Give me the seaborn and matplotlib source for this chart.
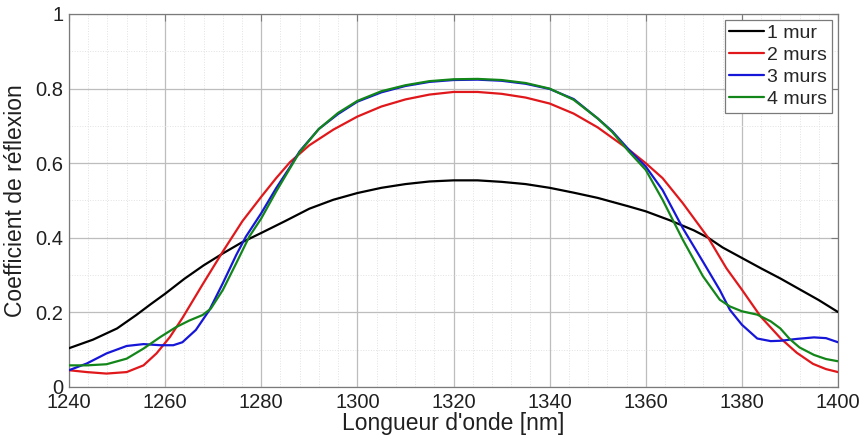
import matplotlib
matplotlib.use("Agg")
import matplotlib.pyplot as plt
import seaborn as sns
import pandas as pd
from matplotlib.ticker import MultipleLocator, FixedLocator

# ---- data ----
x_1mur = [1240, 1245, 1250, 1254, 1257, 1260, 1264, 1268, 1272, 1276, 1280, 1285, 1290, 1295,
          1300, 1305, 1310, 1315, 1320, 1325, 1330, 1335, 1340, 1345, 1350, 1356.5, 1360, 1365,
          1370, 1373, 1376, 1380, 1384, 1388, 1392, 1396, 1400]
y_1mur = [0.104, 0.127, 0.157, 0.193, 0.222, 0.250, 0.290, 0.326, 0.358, 0.388, 0.413, 0.445, 0.478, 0.502,
          0.520, 0.534, 0.544, 0.551, 0.554, 0.554, 0.550, 0.544, 0.534, 0.521, 0.507, 0.484, 0.471, 0.447,
          0.420, 0.400, 0.374, 0.346, 0.318, 0.291, 0.262, 0.233, 0.201]

x_2murs = [1240, 1243.7, 1247.8, 1252, 1255.5, 1258.2, 1261, 1263.6, 1267.8, 1272, 1276.1, 1280, 1283.1,
           1286, 1290, 1295, 1300, 1305, 1310, 1315, 1320, 1325, 1330, 1335, 1340, 1345, 1350, 1356.5,
           1360, 1363.5, 1367.7, 1373, 1376.8, 1380, 1383.9, 1388.1, 1391.4, 1394.8, 1397.5, 1400]
y_2murs = [0.045, 0.040, 0.036, 0.040, 0.058, 0.090, 0.134, 0.185, 0.275, 0.363, 0.445, 0.510, 0.560,
           0.603, 0.648, 0.690, 0.725, 0.752, 0.771, 0.784, 0.791, 0.791, 0.786, 0.776, 0.760, 0.733, 0.696, 0.636,
           0.600, 0.560, 0.493, 0.400, 0.318, 0.261, 0.189, 0.130, 0.092, 0.062, 0.048, 0.040]

x_3murs = [1240, 1243.7, 1247.8, 1252, 1255.5, 1259, 1261.7, 1263.6, 1266.4, 1269.2, 1272, 1274.8,
           1276.8, 1280, 1283.1, 1286, 1288, 1292, 1296, 1300, 1305, 1310, 1315, 1320, 1325, 1330,
           1335, 1340, 1345, 1350, 1353, 1356.5, 1360, 1363.5, 1367.7, 1371.9, 1375.4, 1377.5, 1380,
           1383.2, 1386, 1388.1, 1391.5, 1395, 1397.5, 1400]
y_3murs = [0.045, 0.063, 0.090, 0.110, 0.115, 0.112, 0.112, 0.120, 0.153, 0.206, 0.278, 0.354,
           0.403, 0.466, 0.533, 0.590, 0.632, 0.692, 0.732, 0.765, 0.790, 0.807, 0.818, 0.823, 0.824, 0.821,
           0.813, 0.799, 0.772, 0.720, 0.686, 0.636, 0.591, 0.528, 0.426, 0.336, 0.260, 0.207, 0.167,
           0.130, 0.123, 0.124, 0.129, 0.133, 0.131, 0.120]

x_4murs = [1240, 1243.7, 1247.8, 1252, 1255.5, 1259, 1262.2, 1265, 1267.8, 1269.5, 1272, 1274.8,
           1277.5, 1280, 1283.1, 1286, 1288, 1292, 1296, 1300, 1305, 1310, 1315, 1320, 1325, 1330,
           1335, 1340, 1345, 1350, 1353, 1356.5, 1360, 1363.5, 1367.7, 1371.9, 1375.4, 1377.5, 1380,
           1383.2, 1386, 1388, 1390, 1392, 1395, 1397.5, 1400]
y_4murs = [0.058, 0.058, 0.061, 0.076, 0.103, 0.134, 0.160, 0.178, 0.193, 0.210, 0.260, 0.332,
           0.403, 0.452, 0.524, 0.587, 0.630, 0.692, 0.735, 0.767, 0.793, 0.809, 0.820, 0.825, 0.826, 0.823,
           0.815, 0.800, 0.770, 0.720, 0.684, 0.631, 0.582, 0.502, 0.395, 0.297, 0.234, 0.216, 0.203,
           0.194, 0.176, 0.157, 0.128, 0.106, 0.086, 0.075, 0.069]

labels = ["1 mur", "2 murs", "3 murs", "4 murs"]
colors = ["#000000", "#e0181b", "#1616d8", "#13861a"]
x_ticks = [1240, 1260, 1280, 1300, 1320, 1340, 1360, 1380, 1400]
y_ticks = [0, 0.2, 0.4, 0.6, 0.8, 1]
y_ticklabels = ["0", "0.2", "0.4", "0.6", "0.8", "1"]

frames = []
for lab, xs, ys in zip(labels, [x_1mur, x_2murs, x_3murs, x_4murs],
                       [y_1mur, y_2murs, y_3murs, y_4murs]):
    frames.append(pd.DataFrame({"x": xs, "y": ys, "serie": lab}))
df = pd.concat(frames, ignore_index=True)

sns.set_style("white")
plt.rcParams["font.family"] = ["Liberation Sans", "DejaVu Sans"]

fig = plt.figure(figsize=(8.62, 4.36), dpi=100)
ax = fig.add_axes([69 / 862, 1 - 387 / 436, (838 - 69) / 862, (387 - 14) / 436])

sns.lineplot(data=df, x="x", y="y", hue="serie", hue_order=labels,
             palette=dict(zip(labels, colors)), sort=False, estimator=None,
             linewidth=1.6, ax=ax, zorder=3)
for ln in ax.get_lines():
    ln.set_solid_joinstyle("round")

ax.set_xlim(1240, 1400)
ax.set_ylim(0, 1)
ax.xaxis.set_major_locator(FixedLocator(x_ticks))
ax.yaxis.set_major_locator(FixedLocator(y_ticks))
ax.set_yticklabels(y_ticklabels)
ax.xaxis.set_minor_locator(MultipleLocator(4))
ax.yaxis.set_minor_locator(MultipleLocator(0.1))

ax.grid(True, which="major", color="#bdbdbd", linewidth=0.9, linestyle="-", zorder=0)
ax.grid(True, which="minor", color="#e2e2e2", linewidth=0.7, linestyle=":", zorder=0)
ax.set_axisbelow(True)

for s in ax.spines.values():
    s.set_color("#7a7a7a")
    s.set_linewidth(0.9)
    s.set_visible(True)

ax.tick_params(axis="both", which="major", direction="in", length=5, width=0.8,
               color="#7a7a7a", labelsize=14.5, top=True, right=True, pad=4,
               labelcolor="#202020")
ax.tick_params(axis="y", which="major", pad=4)
ax.tick_params(axis="both", which="minor", length=0, top=True, right=True)

ax.set_xlabel("Longueur d'onde [nm]", fontsize=16.5, color="#202020", labelpad=0)
ax.set_ylabel("Coefficient de réflexion", fontsize=16.5, color="#202020", labelpad=6)

leg = ax.legend(loc="upper right", fontsize=14, frameon=True, fancybox=False,
                handlelength=1.8, handletextpad=0.15, borderpad=0.25, labelspacing=0.22,
                borderaxespad=0.3, title=None)
leg.get_frame().set_edgecolor("#7a7a7a")
leg.get_frame().set_linewidth(0.9)
leg.get_frame().set_alpha(1)

fig.savefig("out.png", dpi=100)
